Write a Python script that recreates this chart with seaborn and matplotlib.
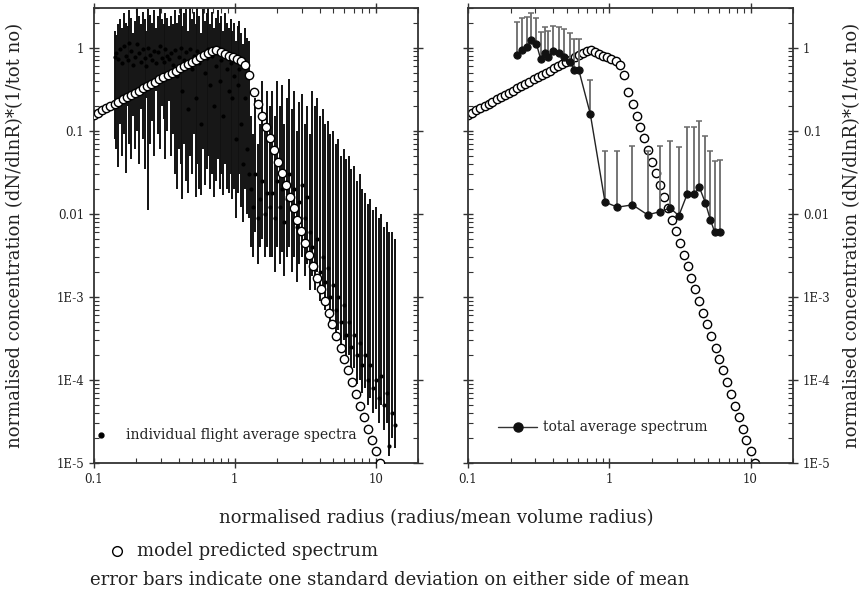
import pandas as pd
import seaborn as sns
import matplotlib.pyplot as plt
from matplotlib.lines import Line2D
from matplotlib.ticker import FixedLocator, FixedFormatter, LogLocator, NullFormatter

# espectro del modelo (circulos abiertos), igual en los dos paneles
model_r = [0.100, 0.107, 0.114, 0.122, 0.131, 0.140, 0.149, 0.160, 0.171, 0.182,
           0.195, 0.208, 0.223, 0.238, 0.255, 0.272, 0.291, 0.311, 0.333, 0.356,
           0.380, 0.406, 0.435, 0.465, 0.497, 0.531, 0.568, 0.607, 0.649, 0.693,
           0.741, 0.792, 0.847, 0.906, 0.968, 1.035, 1.107, 1.183, 1.265, 1.36,
           1.47, 1.56, 1.66, 1.77, 1.89, 2.02, 2.15, 2.30, 2.45, 2.62,
           2.78, 2.97, 3.15, 3.36, 3.59, 3.81, 4.07, 4.34, 4.63, 4.94,
           5.27, 5.66, 6.01, 6.41, 6.84, 7.26, 7.75, 8.27, 8.83, 9.36,
           10.0, 10.67]
model_n = [0.155, 0.165, 0.175, 0.186, 0.198, 0.210, 0.224, 0.238, 0.253, 0.269,
           0.286, 0.304, 0.323, 0.344, 0.366, 0.388, 0.413, 0.440, 0.467, 0.497,
           0.528, 0.561, 0.597, 0.634, 0.675, 0.717, 0.762, 0.811, 0.861, 0.910,
           0.935, 0.88, 0.83, 0.79, 0.76, 0.73, 0.69, 0.62, 0.47, 0.29,
           0.21, 0.152, 0.11, 0.081, 0.059, 0.042, 0.031, 0.0223, 0.0161, 0.0117,
           0.00845, 0.0062, 0.0044, 0.0032, 0.00232, 0.0017, 0.00124, 0.000895, 0.000647, 0.000469,
           0.00034, 0.000245, 0.000179, 0.00013, 9.4e-5, 6.8e-5, 4.9e-5, 3.56e-5, 2.57e-5, 1.9e-5,
           1.38e-5, 1.0e-5]

# espectros medios de cada vuelo (panel izquierdo)
flight_r = [0.140, 0.144, 0.149, 0.153, 0.158, 0.163, 0.168, 0.173, 0.178, 0.184,
            0.190, 0.196, 0.202, 0.208, 0.215, 0.222, 0.229, 0.236, 0.243, 0.251,
            0.259, 0.267, 0.275, 0.284, 0.293, 0.302, 0.312, 0.322, 0.332, 0.343,
            0.354, 0.365, 0.376, 0.388, 0.400, 0.412, 0.425, 0.438, 0.452, 0.466,
            0.480, 0.495, 0.510, 0.526, 0.542, 0.559, 0.576, 0.594, 0.612, 0.631,
            0.650, 0.670, 0.691, 0.712, 0.734, 0.757, 0.780, 0.804, 0.829, 0.855,
            0.881, 0.908, 0.935, 0.963, 0.992, 1.02, 1.05, 1.08, 1.11, 1.14,
            1.18, 1.22, 1.26, 1.30, 1.35, 1.40, 1.45, 1.51, 1.57, 1.63,
            1.70, 1.77, 1.84, 1.92, 2.00, 2.08, 2.16, 2.25, 2.34, 2.44,
            2.54, 2.65, 2.76, 2.88, 3.00, 3.13, 3.27, 3.41, 3.55, 3.70,
            3.86, 4.03, 4.20, 4.38, 4.57, 4.77, 4.98, 5.20, 5.43, 5.67,
            5.92, 6.18, 6.45, 6.74, 7.04, 7.36, 7.70, 8.05, 8.42, 8.80,
            9.20, 9.62, 10.05, 10.5, 11.0, 11.5, 12.0, 12.5, 13.1, 13.7]
flight_mean = [0.77, 0.85, 0.72, 0.95, 0.66, 1.05, 0.80, 0.70, 1.15, 0.90,
               0.62, 0.78, 1.10, 0.85, 0.68, 0.95, 0.74, 0.60, 1.00, 0.82,
               0.70, 0.92, 0.65, 0.88, 1.05, 0.75, 0.68, 0.95, 0.80, 0.72,
               0.85, 0.62, 0.93, 0.45, 0.78, 1.00, 0.30, 0.70, 0.88, 0.18,
               0.95, 0.55, 0.80, 0.25, 0.90, 0.65, 0.12, 0.85, 0.50, 0.75,
               0.95, 0.35, 0.80, 0.20, 0.60, 0.90, 0.40, 0.70, 0.15, 0.85,
               0.55, 0.30, 0.65, 0.25, 0.45, 0.08, 0.35, 0.55, 0.12, 0.04,
               0.25, 0.06, 0.03, 0.02, 0.012, 0.03, 0.009, 0.015, 0.025, 0.01,
               0.018, 0.012, 0.018, 0.009, 0.025, 0.012, 0.02, 0.008, 0.015, 0.03,
               0.011, 0.02, 0.007, 0.014, 0.022, 0.009, 0.016, 0.006, 0.004, 0.0025,
               0.005, 0.002, 0.003, 0.0015, 0.0022, 0.001, 0.0014, 0.0007, 0.001, 0.0005,
               0.0008, 0.00035, 0.0005, 0.00025, 0.00035, 0.0002, 0.00028, 0.00015, 0.0002, 0.0001,
               0.00015, 8e-5, 0.0001, 6e-5, 0.00011, 5e-5, 7e-5, 1.6e-5, 4e-5, 2.9e-5]
flight_low = [0.08, 0.06, 0.037, 0.12, 0.05, 0.09, 0.031, 0.2, 0.07, 0.045,
              0.15, 0.06, 0.1, 0.04, 0.18, 0.08, 0.035, 0.25, 0.011, 0.07,
              0.13, 0.05, 0.3, 0.09, 0.06, 0.2, 0.14, 0.045, 0.1, 0.23,
              0.05, 0.09, 0.03, 0.02, 0.06, 0.04, 0.015, 0.07, 0.025, 0.018,
              0.05, 0.03, 0.09, 0.016, 0.04, 0.02, 0.017, 0.06, 0.022, 0.035,
              0.05, 0.02, 0.03, 0.016, 0.025, 0.045, 0.02, 0.03, 0.017, 0.04,
              0.02, 0.018, 0.03, 0.015, 0.02, 0.009, 0.018, 0.03, 0.012, 0.008,
              0.02, 0.01, 0.009, 0.004, 0.003, 0.006, 0.0025, 0.004, 0.005, 0.003,
              0.004, 0.003, 0.003, 0.002, 0.004, 0.0025, 0.0035, 0.0018, 0.003, 0.004,
              0.002, 0.003, 0.0015, 0.0025, 0.003, 0.0018, 0.0025, 0.0012, 0.0018, 0.0012,
              0.002, 0.0009, 0.0012, 0.0007, 0.0009, 0.0005, 0.0006, 0.00035, 0.0004, 0.00025,
              0.0003, 0.00017, 0.0002, 0.00012, 0.00014, 9e-5, 0.0001, 7e-5, 8e-5, 5e-5,
              6e-5, 4e-5, 4.5e-5, 3e-5, 5e-5, 2.5e-5, 3e-5, 1.2e-5, 2e-5, 1.5e-5]
flight_high = [1.6, 1.4, 1.9, 2.2, 1.7, 2.6, 2.0, 1.8, 2.8, 2.3,
               1.5, 2.1, 3.0, 2.4, 1.9, 2.7, 2.2, 1.6, 2.9, 2.5,
               2.0, 2.8, 1.7, 2.4, 3.0, 2.2, 1.9, 2.6, 2.3, 1.8,
               2.4, 1.9, 2.8, 2.0, 2.5, 3.0, 1.8, 2.6, 2.9, 1.6,
               3.0, 2.2, 2.7, 1.9, 3.0, 2.4, 1.5, 2.9, 2.1, 2.6,
               3.0, 1.9, 2.7, 1.7, 2.3, 2.8, 2.0, 2.4, 1.6, 2.6,
               2.0, 1.7, 2.2, 1.6, 2.0, 1.2, 1.8, 2.1, 1.5, 1.1,
               1.7, 1.3, 1.2, 0.15, 0.09, 0.25, 0.07, 0.12, 0.4, 0.1,
               0.3, 0.2, 0.3, 0.15, 0.4, 0.2, 0.35, 0.12, 0.25, 0.42,
               0.18, 0.3, 0.1, 0.22, 0.28, 0.12, 0.2, 0.09, 0.3, 0.2,
               0.25, 0.15, 0.18, 0.12, 0.13, 0.09, 0.1, 0.07, 0.08, 0.05,
               0.06, 0.045, 0.05, 0.035, 0.038, 0.025, 0.03, 0.02, 0.018, 0.013,
               0.015, 0.011, 0.012, 0.009, 0.01, 0.007, 0.008, 0.006, 0.006, 0.005]

# espectro medio total (panel derecho)
total_r = [0.222, 0.241, 0.262, 0.281, 0.305, 0.327, 0.348, 0.368, 0.399, 0.440,
           0.482, 0.523, 0.567, 0.608, 0.734, 0.933, 1.143, 1.46, 1.87, 2.29,
           2.69, 3.11, 3.56, 3.97, 4.35, 4.80, 5.20, 5.58, 6.05]
total_mean = [0.817, 0.94, 1.03, 1.24, 1.11, 0.725, 0.87, 0.766, 0.90, 0.87,
              0.78, 0.68, 0.54, 0.54, 0.159, 0.0138, 0.012, 0.0128, 0.0097, 0.0106,
              0.0117, 0.0095, 0.0172, 0.0172, 0.0207, 0.0134, 0.00845, 0.0060, 0.0060]
total_high = [2.06, 2.25, 2.32, 2.64, 2.26, 1.53, 1.79, 1.60, 1.82, 1.79,
              1.66, 1.49, 1.27, 1.27, 0.408, 0.0571, 0.0571, 0.0662, 0.0571, 0.0662,
              0.0754, 0.0644, 0.110, 0.110, 0.132, 0.0873, 0.0577, 0.0437, 0.044]

x_ticks = [0.1, 1, 10]
x_labels = ['0.1', '1', '10']
y_ticks = [1e-5, 1e-4, 1e-3, 1e-2, 1e-1, 1]
y_labels = ['1E-5', '1E-4', '1E-3', '0.01', '0.1', '1']

model = pd.DataFrame({'r': model_r, 'n': model_n})
flights = pd.DataFrame({'r': flight_r, 'n': flight_mean, 'lo': flight_low, 'hi': flight_high})
total = pd.DataFrame({'r': total_r, 'n': total_mean, 'hi': total_high})

sns.set_theme(style='ticks')
plt.rcParams['font.family'] = ['DejaVu Serif']
ink = '#222222'

fig = plt.figure(figsize=(8.67, 5.98), dpi=100)
ax1 = fig.add_axes([0.1084, 0.2258, 0.3737, 0.7609])
ax2 = fig.add_axes([0.5398, 0.2258, 0.3749, 0.7609])

for ax in (ax1, ax2):
    ax.set_xscale('log')
    ax.set_yscale('log')

# panel izquierdo
ax1.errorbar(flights['r'], flights['n'],
             yerr=[flights['n'] - flights['lo'], flights['hi'] - flights['n']],
             fmt='none', ecolor='#111111', elinewidth=1.4, zorder=2)
sns.scatterplot(data=flights, x='r', y='n', ax=ax1, color='black', s=9,
                edgecolor='black', linewidth=0, zorder=3, legend=False)
sns.scatterplot(data=model, x='r', y='n', ax=ax1, marker='o', s=36,
                facecolor='white', edgecolor='black', linewidth=1.0, zorder=4, legend=False)

# panel derecho
sns.scatterplot(data=model, x='r', y='n', ax=ax2, marker='o', s=36,
                facecolor='white', edgecolor='black', linewidth=1.0, zorder=2, legend=False)
ax2.errorbar(total['r'], total['n'], yerr=[[0] * len(total), total['hi'] - total['n']],
             fmt='none', ecolor='#6a6a6a', elinewidth=1.3, capsize=2.5, capthick=1.1, zorder=3)
sns.lineplot(data=total, x='r', y='n', ax=ax2, color='#222222', linewidth=1.0,
             marker='o', markersize=5.2, markerfacecolor='#111111',
             markeredgecolor='#111111', zorder=4, estimator=None, sort=False)

for ax in (ax1, ax2):
    ax.set_xlim(0.1, 20)
    ax.set_ylim(1e-5, 3)
    ax.xaxis.set_major_locator(FixedLocator(x_ticks))
    ax.xaxis.set_major_formatter(FixedFormatter(x_labels))
    ax.yaxis.set_major_locator(FixedLocator(y_ticks))
    ax.yaxis.set_major_formatter(FixedFormatter(y_labels))
    ax.xaxis.set_minor_locator(LogLocator(base=10, subs=range(2, 10)))
    ax.yaxis.set_minor_locator(LogLocator(base=10, subs=range(2, 10)))
    ax.xaxis.set_minor_formatter(NullFormatter())
    ax.yaxis.set_minor_formatter(NullFormatter())
    ax.tick_params(which='major', direction='inout', length=7, width=1.0,
                   color='#333333', labelsize=8.5, labelcolor=ink,
                   top=True, right=True)
    ax.tick_params(which='minor', direction='in', length=3.5, width=0.8,
                   color='#333333', top=True, right=True)
    for sp in ax.spines.values():
        sp.set_color('#333333')
        sp.set_linewidth(1.3)
    ax.set_xlabel('')
    ax.set_ylabel('')
    ax.grid(False)

ax2.tick_params(axis='y', which='both', labelleft=False, labelright=True)

# leyendas dentro de los ejes
ax1.plot([0.022], [0.062], transform=ax1.transAxes, marker='o', ms=3.5,
         color='black', ls='none')
ax1.text(0.099, 0.062, 'individual flight average spectra', transform=ax1.transAxes,
         va='center', ha='left', fontsize=10, color=ink)
ax2.plot([0.092, 0.212], [0.079, 0.079], transform=ax2.transAxes, color='#333333', lw=1)
ax2.plot([0.154], [0.079], transform=ax2.transAxes, marker='o', ms=6.5,
         color='#111111', ls='none')
ax2.text(0.231, 0.079, 'total average spectrum', transform=ax2.transAxes,
         va='center', ha='left', fontsize=10, color=ink)

ylab = 'normalised concentration (dN/dlnR)*(1/tot no)'
fig.text(0.0175, 0.607, ylab, rotation=90, ha='center', va='center', fontsize=13, color=ink)
fig.text(0.983, 0.607, ylab, rotation=90, ha='center', va='center', fontsize=13, color=ink)
fig.text(0.503, 0.134, 'normalised radius (radius/mean volume radius)',
         ha='center', va='center', fontsize=13, color=ink)

fig.add_artist(Line2D([0.135], [0.079], transform=fig.transFigure, marker='o', ms=7,
                      mfc='white', mec='black', mew=1.0, ls='none'))
fig.text(0.158, 0.079, 'model predicted spectrum', ha='left', va='center',
         fontsize=13, color=ink)
fig.text(0.104, 0.030, 'error bars indicate one standard deviation on either side of mean',
         ha='left', va='center', fontsize=13, color=ink)

plt.savefig('out.png', dpi=100)
